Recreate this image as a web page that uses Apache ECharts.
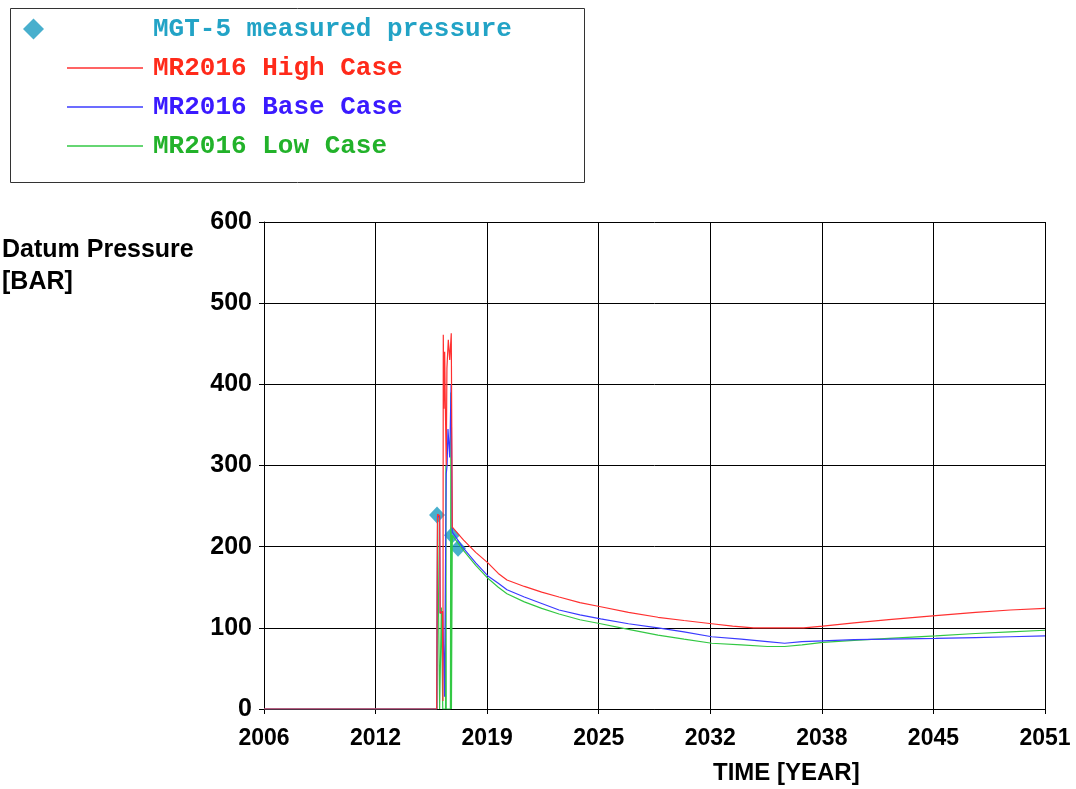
<!DOCTYPE html>
<html><head><meta charset="utf-8">
<script src="https://cdn.jsdelivr.net/npm/echarts@6/dist/echarts.min.js"></script>
<style>html,body{margin:0;padding:0;background:#fff}#c{width:1076px;height:789px}</style>
</head><body><div id="c"></div>
<script>
// ---- data ----
const START_YEAR = 2006;
const END_YEAR = 2051;
const xTickLabels = ['2006','2012','2019','2025','2032','2038','2045','2051'];
const yMin = 0, yMax = 600, yStep = 100;

const measuredPressure = [[2015.97,239],[2016.83,214],[2017.18,198]];

const highCase = [
  [2006,0],[2015.95,0],[2016.0,240],[2016.12,238],[2016.15,118],[2016.28,120],[2016.31,10],
  [2016.33,461],[2016.37,370],[2016.41,440],[2016.45,372],[2016.5,300],[2016.54,420],
  [2016.62,455],[2016.7,430],[2016.79,463],[2016.85,224],
  [2017.5,208],[2018.2,193],[2018.9,180],[2019.5,167],[2020.0,159],[2021.0,151],[2022.0,144],
  [2023.0,138],[2024.2,131],[2025.4,126],[2027.0,119],[2028.7,113],[2030.2,109],[2031.8,105],
  [2033.0,102],[2034.2,100],[2036.0,100],[2037.1,100],[2038.2,102],[2040.0,106],[2042.0,110],
  [2044.7,115],[2047.0,119],[2049.0,122],[2051,124]
];
const baseCase = [
  [2006,0],[2015.95,0],[2016.0,238],[2016.12,236],[2016.15,118],[2016.3,120],[2016.34,118],
  [2016.4,15],[2016.48,15],[2016.5,290],[2016.55,300],[2016.6,345],[2016.7,310],[2016.78,400],
  [2016.85,218],
  [2017.5,198],[2018.2,180],[2018.9,164],[2019.5,155],[2020.0,147],[2021.0,138],[2022.0,130],
  [2023.0,122],[2024.2,116],[2025.4,111],[2027.0,105],[2028.7,100],[2030.2,95],[2031.8,89],
  [2033.5,86],[2035.0,83],[2036.0,81],[2037.0,83],[2038.2,84],[2040.0,85.5],[2042.0,86],
  [2044.7,87],[2047.0,88],[2049.0,89],[2051,90]
];
const lowCase = [
  [2006,0],[2015.97,0],[2016.0,236],[2016.1,236],[2016.12,0],[2016.2,0],[2016.22,125],
  [2016.28,125],[2016.3,0],[2016.46,0],[2016.48,300],[2016.5,0],[2016.74,0],[2016.77,390],
  [2016.8,0],[2016.82,0],[2016.85,214],
  [2017.5,195],[2018.2,177],[2018.9,161],[2019.5,150],[2020.0,142],[2021.0,132],[2022.0,124],
  [2023.0,117],[2024.2,110],[2025.4,105],[2027.0,98],[2028.7,91],[2030.2,86],[2031.8,81],
  [2033.5,79],[2035.0,77],[2036.0,77],[2037.0,79],[2038.2,82],[2040.0,84.5],[2042.0,87],
  [2044.7,90],[2047.0,93],[2049.0,95],[2051,97]
];

// ---- chart ----
const toAxis = arr => arr.map(p => [p[0] - START_YEAR, p[1]]);
const SPAN = END_YEAR - START_YEAR;
const MONO = "'Liberation Mono','Courier New',monospace";
const SANS = "'Liberation Sans',Arial,sans-serif";

const chart = echarts.init(document.getElementById('c'), null, {renderer:'canvas'});
const legendText = {fontFamily: MONO, fontWeight: 'bold', fontSize: 26};
const lineLegend = (name, color, top) => ({
  data: [{name: name, icon: 'rect', textStyle: {color: color}}],
  left: 67, top: top, padding: 0, itemWidth: 76, itemHeight: 1.4, selectedMode: false,
  textStyle: Object.assign({padding: [0,0,0,5]}, legendText)
});
chart.setOption({
  animation: false,
  backgroundColor: '#fff',
  title: [
    {text: 'Datum Pressure\n[BAR]', left: 2, top: 234, padding: 0,
     textStyle: {fontFamily: SANS, fontWeight: 'bold', fontSize: 25, lineHeight: 32, color: '#000'}},
    {text: 'TIME [YEAR]', left: 713, top: 761, padding: 0,
     textStyle: {fontFamily: SANS, fontWeight: 'bold', fontSize: 24, color: '#000'}}
  ],
  graphic: [
    {type: 'rect', shape: {x: 10.5, y: 8.5, width: 574, height: 174},
     style: {fill: null, stroke: '#333', lineWidth: 1}, silent: true}
  ],
  legend: [
    {data: [{name: 'MGT-5 measured pressure', icon: 'diamond', textStyle: {color: '#22a3c6'}}],
     left: 23, top: 16, padding: 0, itemWidth: 21, itemHeight: 21, selectedMode: false,
     textStyle: Object.assign({padding: [0,0,0,104]}, legendText)},
    lineLegend('MR2016 High Case', '#ff2a1a', 55),
    lineLegend('MR2016 Base Case', '#3a1aff', 94),
    lineLegend('MR2016 Low Case', '#22b22a', 133)
  ],
  grid: {left: 264, top: 222, width: 781, height: 487, containLabel: false},
  xAxis: {
    type: 'value', min: 0, max: SPAN, interval: SPAN / (xTickLabels.length - 1),
    offset: 4,
    axisLine: {show: true, lineStyle: {color: '#000', width: 1}},
    axisTick: {show: true, length: 5, lineStyle: {color: '#000'}},
    axisLabel: {margin: 14, color: '#000', fontFamily: SANS, fontWeight: 'bold', fontSize: 23,
      formatter: (v, i) => xTickLabels[i] !== undefined ? xTickLabels[i] : String(Math.round(v + START_YEAR))},
    splitLine: {show: true, lineStyle: {color: '#000', width: 1}}
  },
  yAxis: {
    type: 'value', min: yMin, max: yMax, interval: yStep,
    offset: 6,
    axisLine: {show: true, lineStyle: {color: '#000', width: 1}},
    axisTick: {show: true, length: 5, lineStyle: {color: '#000'}},
    axisLabel: {margin: 6, color: '#000', fontFamily: SANS, fontWeight: 'bold', fontSize: 25},
    splitLine: {show: true, lineStyle: {color: '#000', width: 1}}
  },
  series: [
    {name: 'MGT-5 measured pressure', type: 'scatter', data: toAxis(measuredPressure),
     symbol: 'diamond', symbolSize: [16, 17], itemStyle: {color: '#1a9bc0'}, z: 2},
    {name: 'MR2016 Low Case', type: 'line', data: toAxis(lowCase), symbol: 'none',
     lineStyle: {color: '#33c844', width: 1.2}, itemStyle: {color: '#33c844'}, z: 3},
    {name: 'MR2016 Base Case', type: 'line', data: toAxis(baseCase), symbol: 'none',
     lineStyle: {color: '#3b3bff', width: 1.2}, itemStyle: {color: '#3b3bff'}, z: 3},
    {name: 'MR2016 High Case', type: 'line', data: toAxis(highCase), symbol: 'none',
     lineStyle: {color: '#ff3030', width: 1.2}, itemStyle: {color: '#ff3030'}, z: 3}
  ]
});
</script>
</body></html>
